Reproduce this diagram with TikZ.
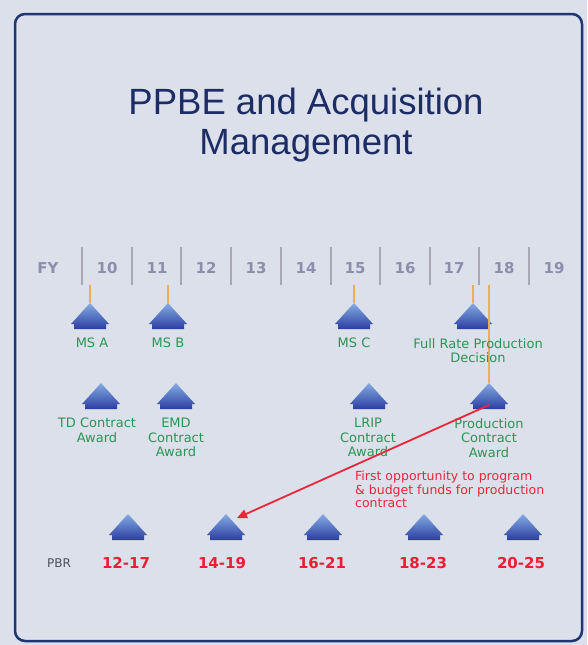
\documentclass[tikz,border=0pt]{standalone}
\usepackage{fontspec}
\setmainfont{DejaVu Sans}
\newfontfamily\titlefont{Liberation Sans}
\usepackage{tikz}
\usetikzlibrary{arrows.meta}

\definecolor{bgcol}{RGB}{219,224,235}
\definecolor{framecol}{RGB}{30,55,112}
\definecolor{titlecol}{RGB}{28,45,102}
\definecolor{yrcol}{RGB}{140,143,172}
\definecolor{sepcol}{RGB}{168,168,178}
\definecolor{msgreen}{RGB}{42,150,84}
\definecolor{notered}{RGB}{236,38,58}
\definecolor{pbrred}{RGB}{236,30,50}
\definecolor{pbrgray}{RGB}{80,80,90}
\definecolor{orangeline}{RGB}{246,170,82}
\definecolor{triTop}{RGB}{132,172,226}
\definecolor{triBot}{RGB}{44,62,162}

\begin{document}
\begin{tikzpicture}[
  x=1pt, y=-1pt,
  title/.style={font=\titlefont\fontsize{36.5}{40}\selectfont, text=titlecol, align=center},
  year/.style={font=\bfseries\fontsize{15}{18}\selectfont, text=yrcol, inner sep=0pt},
  lbl/.style={font=\fontsize{13}{14.5}\selectfont, text=msgreen, align=center,
    inner sep=0pt, anchor=north},
  note/.style={font=\fontsize{12.5}{13.5}\selectfont, text=notered, align=left,
    inner sep=0pt, anchor=north west},
  pbr/.style={font=\bfseries\fontsize{15}{18}\selectfont, text=pbrred, inner sep=0pt},
  sep/.style={sepcol, line width=1.5pt},
  stem/.style={orangeline, line width=2pt},
  arr/.style={-{Triangle[length=10pt,width=9pt]}, notered, line width=1.8pt},
  marker/.pic={
    \shade[top color=triTop, bottom color=triBot]
      (0,0) -- (19,21) -- (16,21) -- (16,26) -- (-16,26) -- (-16,21) -- (-19,21) -- cycle;
    \coordinate (-top) at (0,0);
    \coordinate (-bot) at (0,22);
    \coordinate (-stem) at (0,-18);
    \coordinate (-ne) at (11,4);
  }
]
\fill[bgcol] (0,0) rectangle (587,645);
\draw[framecol, line width=2.5pt, rounded corners=10pt] (15,14) rectangle (582,641);

\node[title] (ttl) at (306,125) {PPBE and Acquisition\\Management};

\node[year] (fy) at (48,268) {FY};
\node[year] (y10) at (107,268) {10};
\node[year] (y11) at (157,268) {11};
\node[year] (y12) at (206,268) {12};
\node[year] (y13) at (256,268) {13};
\node[year] (y14) at (306,268) {14};
\node[year] (y15) at (355,268) {15};
\node[year] (y16) at (405,268) {16};
\node[year] (y17) at (454,268) {17};
\node[year] (y18) at (504,268) {18};
\node[year] (y19) at (554,268) {19};
\draw[sep] (82,247) -- (82,285) (132,247) -- (132,285) (181,247) -- (181,285)
  (231,247) -- (231,285) (281,247) -- (281,285) (331,247) -- (331,285)
  (380,247) -- (380,285) (430,247) -- (430,285) (479,247) -- (479,285)
  (529,247) -- (529,285);

\pic (msa) at (90,303) {marker};
\pic (msb) at (168,303) {marker};
\pic (msc) at (354,303) {marker};
\pic (frp) at (473,303) {marker};
\draw[stem] (msa-stem) -- (msa-top);
\draw[stem] (msb-stem) -- (msb-top);
\draw[stem] (msc-stem) -- (msc-top);
\draw[stem] (frp-stem) -- (frp-top);

\pic (td) at (101,383) {marker};
\pic (emd) at (176,383) {marker};
\pic (lrip) at (369,383) {marker};
\pic (prod) at (489,383) {marker};
\coordinate (fy18) at (489,285);
\draw[stem] (fy18) -- (prod-top);

\node[lbl] (msalbl) at (92,338) {MS A};
\node[lbl] (msblbl) at (168,338) {MS B};
\node[lbl] (msclbl) at (354,338) {MS C};
\node[lbl] (frplbl) at (478,338) {Full Rate Production\\Decision};
\node[lbl] (tdlbl) at (97,418) {TD Contract\\Award};
\node[lbl] (emdlbl) at (176,418) {EMD\\Contract\\Award};
\node[lbl] (lriplbl) at (368,418) {LRIP\\Contract\\Award};
\node[lbl] (prodlbl) at (489,418) {Production\\Contract\\Award};
\node[note] (nt) at (355,471) {First opportunity to program\\\& budget funds for production\\contract};

\pic (pbr1) at (128,514) {marker};
\pic (pbr2) at (226,514) {marker};
\pic (pbr3) at (323,514) {marker};
\pic (pbr4) at (424,514) {marker};
\pic (pbr5) at (523,514) {marker};
\node[font=\fontsize{12}{14}\selectfont, text=pbrgray, inner sep=0pt] (pbrlbl) at (59,563) {PBR};
\node[pbr] (r1217) at (126,563) {12-17};
\node[pbr] (r1419) at (222,563) {14-19};
\node[pbr] (r1621) at (322,563) {16-21};
\node[pbr] (r1823) at (423,563) {18-23};
\node[pbr] (r2025) at (521,563) {20-25};

\draw[arr] (prod-bot) -- (pbr2-ne);
\end{tikzpicture}
\end{document}
